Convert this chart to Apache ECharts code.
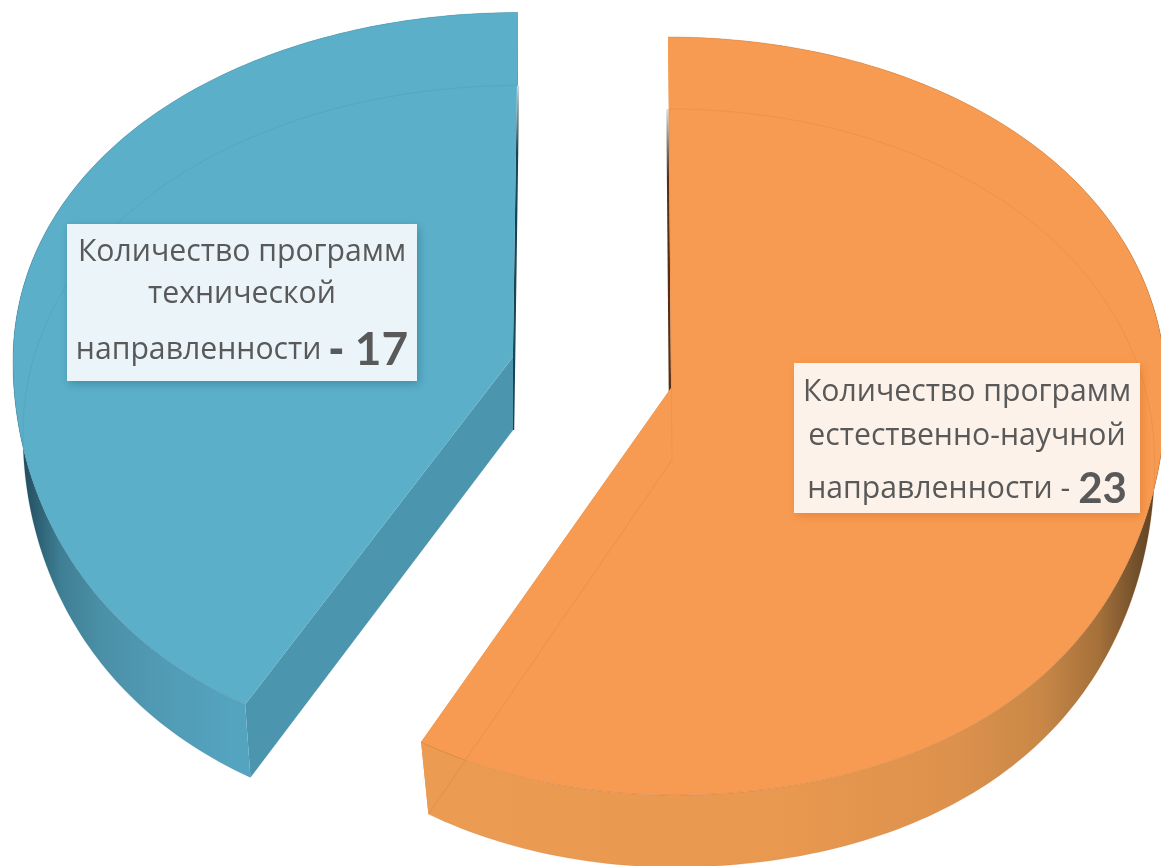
<!DOCTYPE html>
<html>
<head>
<meta charset="utf-8">
<style>html,body{margin:0;padding:0;background:#fff}#c{width:1161px;height:866px}</style>
<script src="https://cdn.jsdelivr.net/npm/echarts@6/dist/echarts.min.js"></script>
</head>
<body>
<div id="c"></div>
<script>
// ---- data ----
const categories = ['естественно-научной', 'технической'];
const values = [23, 17];
const labelHeads = [
  ['Количество программ', 'естественно-научной', 'направленности'],
  ['Количество программ', 'технической', 'направленности']
];

// ---- drawing geometry and styles (not data) ----
const FONT = '"Open Sans","Noto Sans",sans-serif';
const slices = [
  { topApex: [671, 388], baseApex: [672, 460], rx: 495, ry: 377, baseScale: 0.975, lean: -3, widen: 0.139, tilt: 30, sliverDx: -1.5,
    topFill: '#F79B52', line: '#B5682A', sliver: '#5A2C10', cutFill: '#E0924C',
    side: { x: 430, x2: 1161, stops: [[0, '#EC9B53'], [0.5, '#E8984F'], [0.725, '#DC914C'], [0.834, '#C98848'], [0.915, '#A5703A'], [0.97, '#6F4E2A'], [1, '#5C3D20']] },
    box: [794, 363, 346, 150], boxFill: '#FDF2EA', boxShadow: 'rgba(225,115,30,0.6)',
    tops: [392, 436, 489], dash: 'dn', numSize: 42 },
  { topApex: [513, 357], baseApex: [513, 430], rx: 500, ry: 370, baseScale: 0.98, lean: 5, widen: 0.174, tilt: 30, sliverDx: 0,
    topFill: '#5BAFC9', line: '#3B8199', sliver: '#173F50', cutFill: '#4B95AE',
    side: { x: 20, x2: 260, stops: [[0, '#20485A'], [0.08, '#2E6275'], [0.17, '#3F7F95'], [0.33, '#4A8FA5'], [0.54, '#5099B3'], [0.87, '#54A3BF'], [1, '#54A3BF']] },
    box: [67, 224, 350, 157], boxFill: '#EBF5F9', boxShadow: 'rgba(35,105,130,0.5)',
    tops: [252, 294, 350], dash: 'db', numSize: 46 }
];
const PERSP = 0.074;
const TEXT_SIZE = 30.2;
const total = values.reduce((a, b) => a + b, 0);

function proj(g, isBase, th) {
  const s = Math.sin(th), y = -Math.cos(th);
  const apex = isBase ? g.baseApex : g.topApex;
  const rx = g.rx * (isBase ? g.baseScale : 1);
  const py = 1 / (1 - PERSP * y), px = 1 / (1 - g.widen * y * y * (y > 0 ? 1 : 0));
  const lift = (s < 0 && y > 0) ? g.tilt * s * s * y : 0;
  return [apex[0] + s * rx * px - g.lean * y, apex[1] + y * g.ry * py - lift];
}
function arc(g, isBase, a0, a1) {
  const n = Math.max(2, Math.ceil(Math.abs(a1 - a0) / (Math.PI / 180)));
  const out = [];
  for (let i = 0; i <= n; i++) out.push(proj(g, isBase, a0 + (a1 - a0) * i / n));
  return out;
}
function poly(points, fill) {
  return { type: 'polygon', shape: { points }, style: { fill }, silent: true };
}
function line(points, color, opacity, width) {
  return { type: 'polyline', shape: { points }, silent: true,
    style: { fill: 'none', stroke: color, opacity, lineWidth: width || 1 } };
}

function renderSlice(params, api) {
  const idx = params.dataIndex, g = slices[idx];
  const before = values.slice(0, idx).reduce((a, b) => a + b, 0);
  const a0 = before / total * Math.PI * 2;
  const a1 = (before + api.value(0)) / total * Math.PI * 2;
  // the wall at 12 o'clock is almost edge-on; the other radial wall is the broad one
  const backAngle = idx === 0 ? a0 : a1;
  const frontAngle = idx === 0 ? a1 : a0;

  const topArc = arc(g, false, a0, a1), baseArc = arc(g, true, a0, a1);
  const sideGrad = new echarts.graphic.LinearGradient(g.side.x, 0, g.side.x2, 0,
    g.side.stops.map(s => ({ offset: s[0], color: s[1] })), true);
  const backBase = proj(g, true, backAngle);
  const sliverTop = [backBase[0] + g.sliverDx, backBase[1]];
  const sliverEnd = [g.baseApex[0] + g.sliverDx, g.baseApex[1]];
  const sliverGrad = new echarts.graphic.LinearGradient(0, sliverTop[1] - 10, 0, sliverEnd[1], [
    { offset: 0, color: 'rgba(0,0,0,0)' },
    { offset: 0.22, color: g.sliver },
    { offset: 0.85, color: g.sliver },
    { offset: 1, color: g.sliver }
  ], true);

  const children = [];
  children.push({ type: 'line', silent: true,
    shape: { x1: sliverTop[0], y1: sliverTop[1], x2: sliverEnd[0], y2: sliverEnd[1] },
    style: { stroke: sliverGrad, lineWidth: 2.4 } });
  children.push(poly([g.topApex, proj(g, false, frontAngle), proj(g, true, frontAngle), g.baseApex], g.cutFill));
  children.push(poly(topArc.concat(baseArc.slice().reverse()), sideGrad));
  children.push(poly([g.topApex].concat(topArc), g.topFill));
  // seam of the top face and base outline seen through the translucent face
  children.push(line(topArc, g.line, 0.3));
  children.push(line(baseArc, g.line, 0.18));
  children.push(line([g.baseApex, proj(g, true, frontAngle)], g.line, 0.2));
  children.push(line([g.baseApex, backBase], g.line, 0.14));

  // label box
  const b = g.box;
  children.push({ type: 'rect', silent: true,
    shape: { x: b[0], y: b[1], width: b[2], height: b[3] },
    style: { fill: g.boxFill, shadowBlur: 9, shadowOffsetX: 2, shadowOffsetY: 3, shadowColor: g.boxShadow } });
  const head = labelHeads[idx], cx = b[0] + b[2] / 2;
  const baseStyle = { fill: '#595959', fontFamily: FONT, fontSize: TEXT_SIZE, align: 'center', verticalAlign: 'middle' };
  children.push({ type: 'text', silent: true, x: cx, y: g.tops[0], style: Object.assign({ text: head[0] }, baseStyle) });
  children.push({ type: 'text', silent: true, x: cx, y: g.tops[1], style: Object.assign({ text: head[1] }, baseStyle) });
  children.push({ type: 'text', silent: true, x: cx, y: g.tops[2], style: {
    text: '{t|' + head[2] + ' }{' + g.dash + '|- }{n|' + api.value(0) + '}',
    align: 'center', verticalAlign: 'middle',
    rich: {
      t: { fill: '#595959', fontFamily: FONT, fontSize: TEXT_SIZE },
      dn: { fill: '#595959', fontFamily: FONT, fontSize: TEXT_SIZE },
      db: { fill: '#595959', fontFamily: FONT, fontSize: 44, fontWeight: 'bold' },
      n: { fill: '#595959', fontFamily: 'Lato,' + FONT, fontSize: g.numSize, fontWeight: 'bold' }
    } } });
  return { type: 'group', children };
}

const chart = echarts.init(document.getElementById('c'), null, { renderer: 'canvas' });
chart.setOption({
  animation: false,
  backgroundColor: '#ffffff',
  series: [{
    type: 'custom',
    coordinateSystem: 'none',
    silent: true,
    renderItem: renderSlice,
    data: values.map((v, i) => ({ name: categories[i], value: [v] }))
  }]
});
</script>
</body>
</html>
